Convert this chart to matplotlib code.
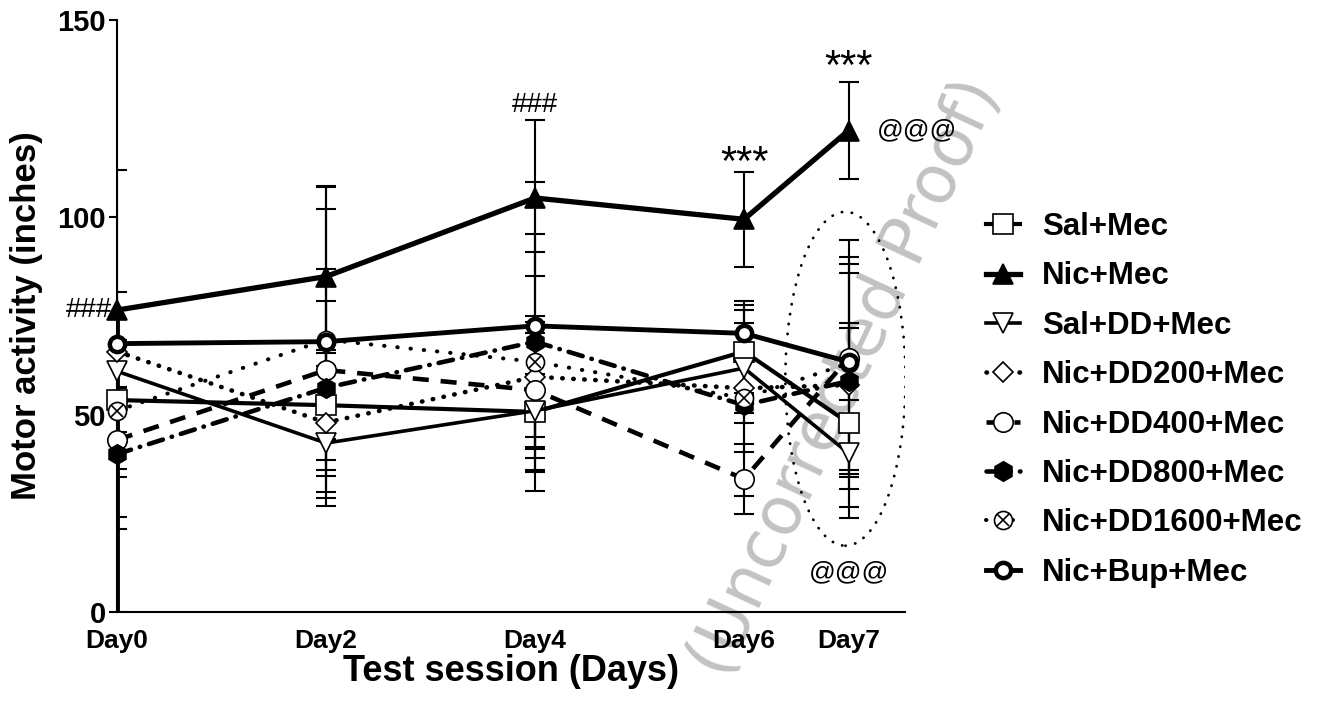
import matplotlib
matplotlib.use("Agg")
import matplotlib.pyplot as plt
from matplotlib.patches import Ellipse
from matplotlib.legend_handler import HandlerTuple

plt.rcParams['font.family'] = ['Liberation Sans', 'DejaVu Sans']

# data (mean +/- SEM)
days = [0, 2, 4, 6, 7]
day_labels = ['Day0', 'Day2', 'Day4', 'Day6', 'Day7']

sal_mec = [53.7, 52.4, 50.7, 66.0, 47.9]
sal_mec_err = [3, 14, 20, 10.5, 24]

nic_mec = [76.5, 85.0, 104.9, 99.5, 122.0]
nic_mec_err_lo = [76.5, 22.7, 19.7, 12, 12.3]
nic_mec_err_hi = [0, 22.7, 19.7, 12, 12.3]

sal_dd = [61.0, 42.8, 51.0, 61.8, 40.2]
sal_dd_err = [4, 8.4, 9.3, 11.4, 5.3]

dd200 = [66.0, 48.0, 59.6, 56.7, 57.5]
dd200_err = [3, 17.5, 15.3, 8.8, 30.8]

dd400 = [43.6, 61.3, 56.2, 33.7, 64.3]
dd400_err = [7.3, 17.5, 17.3, 8.9, 30]

dd800 = [40.0, 56.8, 68.5, 52.4, 58.5]
dd800_err = [5.7, 30, 27.3, 11.9, 27.4]

dd1600 = [51.0, 69.0, 63.4, 54.2, 63.0]
dd1600_err = [30, 33, 27.9, 24.7, 27]

bup = [68.0, 68.5, 72.5, 70.6, 63.4]
bup_err = [44, 39.5, 36.5, 7.2, 9.8]

fig = plt.figure(figsize=(13.2, 7.1), dpi=100)
ax = fig.add_axes([117/1320, 98/710, 788/1320, 592/710])
ax.set_facecolor('none')

ebar = dict(ecolor='black', elinewidth=1.5, capsize=7, capthick=1.5, zorder=2)

def series(y, err, ls, lw, marker, ms, mfc, mew=1.2, dashcap='butt'):
    ax.errorbar(days, y, yerr=err, fmt='none', **ebar)
    ln, = ax.plot(days, y, color='black', linestyle=ls, lw=lw, marker=marker,
                  ms=ms, mfc=mfc, mec='black', mew=mew, zorder=3,
                  dash_capstyle=dashcap, clip_on=False)
    return ln

h1 = series(sal_mec, sal_mec_err, '-', 3.0, 's', 14, 'white')
h2 = series(nic_mec, [nic_mec_err_lo, nic_mec_err_hi], '-', 3.8, '^', 15, 'black')
h3 = series(sal_dd, sal_dd_err, '-', 2.6, 'v', 14, 'white')
h4 = series(dd200, dd200_err, (0, (0.1, 2.3)), 3.3, 'D', 10, 'white', dashcap='round')
h5 = series(dd400, dd400_err, (0, (3.5, 2.6)), 3.3, 'o', 14, 'white')
h6 = series(dd800, dd800_err, (0, (3.2, 2.0, 0.1, 2.0)), 3.3, 'h', 14, 'black',
            dashcap='round')
h7 = series(dd1600, dd1600_err, (0, (0.1, 3.2)), 2.9, 'o', 13, 'white',
            dashcap='round')
h7x, = ax.plot(days, dd1600, ls='none', marker='x', ms=9, mec='black', mew=1.2,
               zorder=3, clip_on=False)
h8 = series(bup, bup_err, '-', 3.5, 'o', 11, 'white', mew=3.2)

# Nic+Mec bar at Day0 is drawn heavier in the original
ax.errorbar(days[:1], nic_mec[:1], yerr=[nic_mec_err_lo[:1], [0]], fmt='none',
            ecolor='black', elinewidth=3.5, capsize=0, zorder=2)

# dotted ring round the Day7 values
ax.add_patch(Ellipse((6.97, 59.1), 1.15, 84.6, fill=False, ls=(0, (0.1, 3.5)),
                     lw=2, ec='black', capstyle='round', zorder=1))

# significance marks
ax.text(-0.05, nic_mec[0], '###', ha='right', va='center', fontsize=20)
ax.text(4, 128.5, '###', ha='center', va='center', fontsize=20)
ax.text(6, 113.5, '***', ha='center', va='center', fontsize=30)
ax.text(7, 137.8, '***', ha='center', va='center', fontsize=30)
ax.text(7.27, 122, '@@@', ha='left', va='center', fontsize=19)
ax.text(7.0, 10, '@@@', ha='center', va='center', fontsize=19)

ax.set_xlim(0, 7.54)
ax.set_ylim(0, 150)
ax.set_yticks([0, 50, 100, 150])
ax.set_xticks(days)
ax.set_xticklabels(day_labels)
ax.tick_params(axis='y', length=6, width=1.5, labelsize=21, pad=2)
ax.tick_params(axis='x', length=0, labelsize=19, pad=12)
for lab in ax.get_xticklabels() + ax.get_yticklabels():
    lab.set_fontweight('bold')
for side in ['top', 'right']:
    ax.spines[side].set_visible(False)
for side in ['left', 'bottom']:
    ax.spines[side].set_linewidth(1.5)

ax.set_xlabel('Test session (Days)', fontsize=26, fontweight='bold', labelpad=1)
ax.set_ylabel('Motor activity (inches)', fontsize=25, fontweight='bold', labelpad=10)

labels = ['Sal+Mec', 'Nic+Mec', 'Sal+DD+Mec', 'Nic+DD200+Mec', 'Nic+DD400+Mec',
          'Nic+DD800+Mec', 'Nic+DD1600+Mec', 'Nic+Bup+Mec']
handles = [h1, h2, h3, h4, h5, h6, (h7, h7x), h8]
leg = fig.legend(handles, labels, loc='upper left',
                 bbox_to_anchor=(958/1320, 1 - 184/710), frameon=False,
                 prop={'weight': 'bold', 'size': 22.5}, handlelength=1.1,
                 handletextpad=0.7, labelspacing=0.62,
                 handler_map={tuple: HandlerTuple(ndivide=1, pad=0)})

# proof watermark
fig.text(845/1320, 1 - 378/710, '(Uncorrected Proof)', rotation=65,
         ha='center', va='center', fontsize=48, color='#c2c2c2', zorder=-1,
         family='DejaVu Sans')

fig.savefig('out.png', dpi=100)
